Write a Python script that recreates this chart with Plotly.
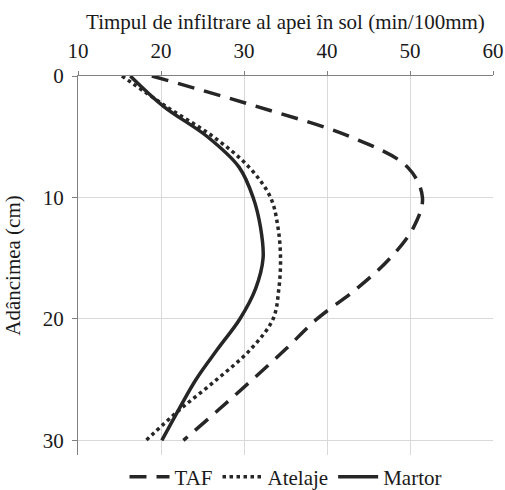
import plotly.graph_objects as go

depth = [0, 2.5, 5, 7.5, 10, 12.5, 15, 17.5, 20, 22.5, 25, 27.5, 30]
taf = [18.9, 31.5, 42.8, 49.7, 51.5, 50.4, 47.6, 43.6, 38.8, 35.0, 31.0, 26.9, 22.7]
atelaje = [15.3, 20.6, 26.3, 30.6, 33.2, 34.1, 34.4, 34.2, 33.5, 30.8, 26.7, 22.2, 18.2]
martor = [16.3, 20.3, 25.6, 29.4, 31.1, 32.0, 32.3, 31.4, 29.5, 26.8, 24.2, 22.1, 20.1]

x_ticks = [10, 20, 30, 40, 50, 60]
y_ticks = [0, 10, 20, 30]

FONT = "Liberation Serif, Times New Roman, serif"
LC = "#262626"

fig = go.Figure()
fig.add_trace(go.Scatter(x=taf, y=depth, name="TAF", mode="lines",
                         line=dict(color=LC, width=3.5, dash="17px,10px", shape="spline", smoothing=1.0)))
fig.add_trace(go.Scatter(x=atelaje, y=depth, name="Atelaje", mode="lines",
                         line=dict(color=LC, width=3.5, dash="3.5px,3.5px", shape="spline", smoothing=1.0)))
fig.add_trace(go.Scatter(x=martor, y=depth, name="Martor", mode="lines",
                         line=dict(color=LC, width=3.5, shape="spline", smoothing=1.0)))

fig.update_layout(
    width=505, height=490,
    margin=dict(l=78, r=12, t=76, b=35, autoexpand=False),
    paper_bgcolor="white", plot_bgcolor="white",
    font=dict(family=FONT, size=21, color="#1a1a1a"),
    showlegend=True,
    legend=dict(orientation="h", x=0.5, xanchor="center", y=-0.058, yanchor="middle",
                font=dict(size=21), itemwidth=40, tracegroupgap=0,
                bgcolor="rgba(0,0,0,0)"),
    xaxis=dict(side="top", range=[10, 60], tickvals=x_ticks, ticktext=[str(v) for v in x_ticks],
               showgrid=True, gridcolor="#d9d9d9", gridwidth=1,
               showline=True, linecolor="#808080", linewidth=1,
               ticks="outside", ticklen=4, tickcolor="#808080", ticklabelstandoff=5,
               ticklabeloverflow="allow",
               zeroline=False, tickfont=dict(size=21), automargin=False,
               title=dict(text="Timpul de infiltrare al apei în sol (min/100mm)", font=dict(size=21), standoff=3)),
    yaxis=dict(range=[31.2, 0], tickvals=y_ticks, ticktext=[str(v) for v in y_ticks],
               showgrid=True, gridcolor="#d9d9d9", gridwidth=1,
               showline=True, linecolor="#808080", linewidth=1,
               ticks="outside", ticklen=5, tickcolor="#808080", ticklabelstandoff=4,
               zeroline=False, tickfont=dict(size=21), automargin=False,
               title=dict(text="Adâncimea (cm)", font=dict(size=21), standoff=16)),
)

fig.write_html("out.html", config={"displayModeBar": False},
               post_script="document.body.style.margin='0px';")
